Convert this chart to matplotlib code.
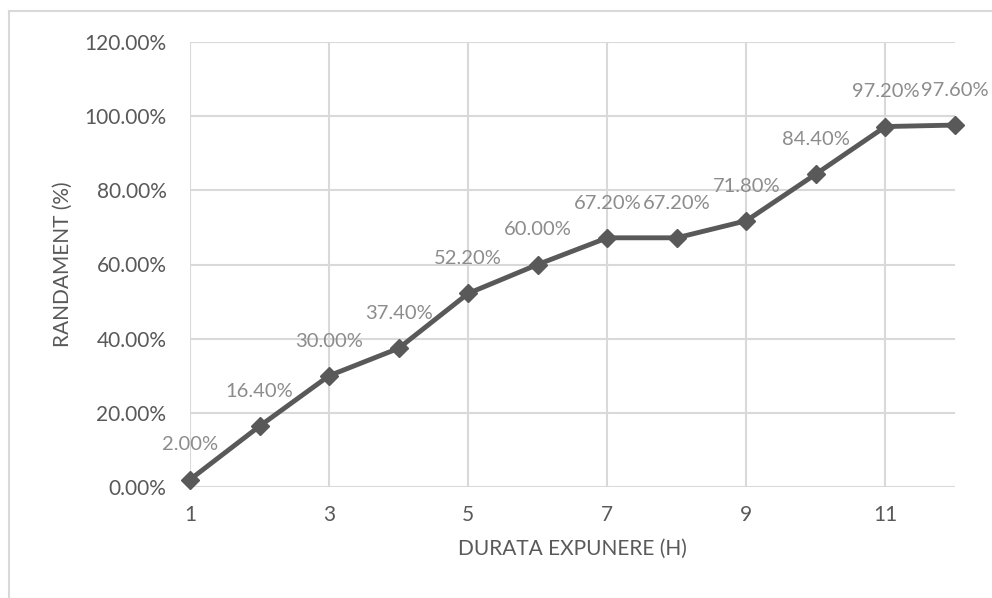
import matplotlib.pyplot as plt
from matplotlib.lines import Line2D
from matplotlib.ticker import FuncFormatter

# ================== DATA ==================

hours = [1, 2, 3, 4, 5, 6, 7, 8, 9, 10, 11, 12]
yield_pct = [2.0, 16.4, 30.0, 37.4, 52.2, 60.0, 67.2, 67.2, 71.8, 84.4, 97.2, 97.6]
x_ticks = [1, 3, 5, 7, 9, 11]
y_ticks = [0, 20, 40, 60, 80, 100, 120]

X_LABEL = 'DURATA EXPUNERE (H)'
Y_LABEL = 'RANDAMENT (%)'

# ================== STYLE ==================

plt.rcParams['font.family'] = ['Lato', 'DejaVu Sans']
TEXT_COLOR = '#595959'
LABEL_COLOR = '#8c8c8c'
GRID_COLOR = '#d9d9d9'
LINE_COLOR = '#595959'

fig = plt.figure(figsize=(9.92, 5.98), dpi=100)
ax = fig.add_axes([190 / 992, 1 - 487 / 598, (955 - 190) / 992, (487 - 42) / 598])

ax.plot(hours, yield_pct, color=LINE_COLOR, linewidth=3.5, marker='D',
        markersize=9, markerfacecolor=LINE_COLOR, markeredgecolor=LINE_COLOR,
        zorder=3, clip_on=False)

for x, y in zip(hours, yield_pct):
    ax.annotate(f'{y:.2f}%', (x, y), xytext=(0, 25), textcoords='offset points',
                ha='center', va='center', fontsize=14.5, color=LABEL_COLOR, zorder=4)

ax.set_xlim(1, 12)
ax.set_ylim(0, 120)
ax.set_xticks(x_ticks)
ax.set_yticks(y_ticks)
ax.yaxis.set_major_formatter(FuncFormatter(lambda v, p: f'{v:.2f}%'))

ax.grid(True, color=GRID_COLOR, linewidth=1.5)
ax.set_axisbelow(True)
for side in ['top', 'right', 'left', 'bottom']:
    ax.spines[side].set_visible(False)
ax.tick_params(length=0, labelsize=15, labelcolor=TEXT_COLOR)
ax.tick_params(axis='y', pad=17)
ax.tick_params(axis='x', pad=13)

ax.set_xlabel(X_LABEL, fontsize=15, color=TEXT_COLOR, labelpad=10)
ax.set_ylabel(Y_LABEL, fontsize=15, color=TEXT_COLOR, labelpad=8)

# chart border (runs off the right and bottom of the image)
fig.add_artist(Line2D([9 / 992, 9 / 992], [0, 1 - 11 / 598], transform=fig.transFigure,
                      color=GRID_COLOR, linewidth=1.5))
fig.add_artist(Line2D([9 / 992, 1], [1 - 11 / 598, 1 - 11 / 598], transform=fig.transFigure,
                      color=GRID_COLOR, linewidth=1.5))

fig.savefig('out.png', dpi=100)
